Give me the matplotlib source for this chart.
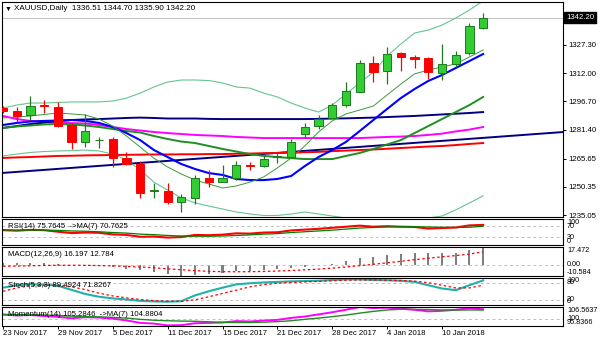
import matplotlib
matplotlib.use('Agg')
import matplotlib.pyplot as plt
import numpy as np

plt.rcParams['font.family'] = ['Liberation Sans', 'DejaVu Sans']
plt.rcParams['font.size'] = 5.6

# daily bars, XAUUSD
dates = ['23 Nov 2017', '24 Nov 2017', '27 Nov 2017', '28 Nov 2017', '29 Nov 2017', '30 Nov 2017',
         '1 Dec 2017', '4 Dec 2017', '5 Dec 2017', '6 Dec 2017', '7 Dec 2017', '8 Dec 2017',
         '11 Dec 2017', '12 Dec 2017', '13 Dec 2017', '14 Dec 2017', '15 Dec 2017', '18 Dec 2017',
         '19 Dec 2017', '20 Dec 2017', '21 Dec 2017', '22 Dec 2017', '26 Dec 2017', '27 Dec 2017',
         '28 Dec 2017', '29 Dec 2017', '2 Jan 2018', '3 Jan 2018', '4 Jan 2018', '5 Jan 2018',
         '8 Jan 2018', '9 Jan 2018', '10 Jan 2018', '11 Jan 2018', '12 Jan 2018', '15 Jan 2018']
opens = [1293.2, 1291.6, 1289.3, 1294.5, 1293.8, 1283.9, 1274.8, 1275.6, 1276.1, 1266.1, 1262.7, 1248.0,
         1248.1, 1242.3, 1244.4, 1255.3, 1252.8, 1255.3, 1262.2, 1261.8, 1266.4, 1266.7, 1278.8, 1283.3,
         1287.5, 1294.7, 1301.9, 1317.4, 1313.2, 1322.8, 1321.0, 1320.1, 1311.9, 1316.8, 1322.8, 1336.51]
highs = [1294.0, 1293.6, 1299.6, 1297.4, 1296.5, 1284.8, 1289.7, 1277.5, 1277.5, 1269.4, 1264.5, 1252.6,
         1252.2, 1246.3, 1256.8, 1259.5, 1262.2, 1264.4, 1264.0, 1267.6, 1269.4, 1276.3, 1284.8, 1289.3,
         1295.7, 1307.4, 1319.2, 1321.3, 1326.4, 1323.7, 1321.9, 1320.9, 1327.7, 1324.0, 1339.1, 1344.70]
lows = [1290.5, 1285.7, 1286.6, 1290.6, 1283.0, 1270.7, 1271.8, 1271.2, 1261.3, 1262.3, 1244.1, 1244.4,
        1240.8, 1236.5, 1241.0, 1250.4, 1252.8, 1254.0, 1259.5, 1261.3, 1263.4, 1266.4, 1277.0, 1281.5,
        1287.5, 1293.8, 1301.9, 1307.4, 1306.0, 1313.4, 1314.7, 1308.7, 1308.3, 1315.5, 1321.9, 1335.90]
closes = [1291.4, 1288.8, 1294.4, 1294.1, 1283.5, 1274.8, 1280.6, 1276.0, 1265.8, 1262.8, 1247.2, 1248.5,
          1242.3, 1244.7, 1255.3, 1252.8, 1255.3, 1262.2, 1261.6, 1265.3, 1267.0, 1274.8, 1282.6, 1287.0,
          1294.7, 1302.3, 1317.4, 1312.8, 1322.4, 1320.6, 1319.7, 1312.5, 1316.9, 1321.9, 1337.5, 1342.20]

# main chart overlays
band_upper = [1293.1, 1294.7, 1295.8, 1295.8, 1296.1, 1296.4, 1296.4, 1296.4, 1296.9, 1298.5, 1301.2, 1304.5,
              1307.2, 1308.3, 1308.3, 1308.0, 1306.7, 1304.5, 1303.9, 1301.2, 1299.1, 1295.8, 1293.1, 1290.9,
              1294.7, 1300.7, 1306.7, 1312.6, 1321.3, 1327.8, 1333.8, 1335.4, 1338.1, 1341.9, 1346.3, 1351.2]
band_lower = [1267.1, 1268.1, 1269.0, 1269.5, 1269.8, 1270.0, 1270.3, 1269.8, 1268.1, 1264.9, 1259.5, 1252.9,
              1248.6, 1244.3, 1241.6, 1239.9, 1238.3, 1236.7, 1235.6, 1234.8, 1234.8, 1235.6, 1236.7, 1235.6,
              1234.5, 1233.4, 1232.9, 1232.9, 1232.9, 1232.9, 1232.9, 1233.4, 1234.5, 1237.8, 1241.6, 1245.4]
ma_fast = [1287.7, 1288.2, 1288.8, 1289.6, 1290.4, 1289.9, 1289.3, 1287.1, 1283.3, 1277.9, 1271.9, 1265.9,
           1261.1, 1257.3, 1254.0, 1251.9, 1249.7, 1250.8, 1252.9, 1255.7, 1260.6, 1265.9, 1272.5, 1280.1,
           1286.1, 1289.9, 1292.0, 1294.2, 1300.2, 1306.1, 1311.6, 1313.7, 1315.4, 1317.0, 1320.8, 1324.6]
ma_blue = [1283.9, 1285.0, 1285.8, 1286.1, 1286.3, 1286.6, 1286.1, 1285.0, 1282.8, 1279.5, 1275.7, 1270.3,
           1266.5, 1262.7, 1260.0, 1257.8, 1256.8, 1254.6, 1254.0, 1254.0, 1254.6, 1256.2, 1261.6, 1266.5,
           1270.3, 1274.7, 1280.6, 1286.6, 1292.6, 1298.5, 1303.4, 1307.8, 1311.0, 1314.8, 1318.6, 1322.4]
ma_navy = [1282.3, 1283.3, 1284.4, 1285.2, 1286.0, 1286.6, 1286.9, 1287.1, 1287.4, 1287.7, 1287.9, 1287.7,
           1287.4, 1287.4, 1287.4, 1287.2, 1287.1, 1287.1, 1287.1, 1287.1, 1287.1, 1287.1, 1287.1, 1287.2,
           1287.4, 1287.5, 1287.7, 1287.9, 1288.2, 1288.5, 1288.8, 1289.2, 1289.6, 1290.0, 1290.4, 1290.9]
ma_magenta = [1288.8, 1287.1, 1286.1, 1285.5, 1285.2, 1284.9, 1284.7, 1283.9, 1282.8, 1281.7, 1280.9, 1280.1,
              1279.5, 1279.0, 1278.5, 1278.2, 1277.9, 1277.4, 1277.1, 1276.8, 1276.8, 1276.8, 1276.8, 1276.8,
              1276.8, 1276.8, 1276.8, 1277.1, 1277.4, 1277.6, 1277.9, 1278.5, 1279.2, 1280.4, 1281.4, 1282.8]
ma_green = [1282.3, 1283.1, 1283.6, 1284.2, 1284.4, 1284.2, 1283.6, 1282.8, 1281.7, 1280.6, 1279.8, 1277.9,
            1276.3, 1274.9, 1274.1, 1272.5, 1270.9, 1269.5, 1268.1, 1267.1, 1266.5, 1265.9, 1265.4, 1265.4,
            1265.4, 1267.1, 1268.7, 1270.9, 1273.3, 1275.7, 1279.5, 1283.3, 1287.1, 1290.9, 1294.7, 1299.1]
ma_red = [1266.0, 1266.3, 1266.5, 1266.8, 1267.1, 1267.2, 1267.4, 1267.5, 1267.6, 1267.7, 1267.8, 1267.9,
          1267.9, 1268.0, 1268.0, 1268.1, 1268.1, 1268.3, 1268.4, 1268.6, 1268.7, 1268.8, 1269.1, 1269.3,
          1269.7, 1270.0, 1270.3, 1270.6, 1271.0, 1271.4, 1271.8, 1272.2, 1272.5, 1273.0, 1273.6, 1274.1]
trend_bars = [0, 35]
trend_prices = [1257.9, 1276.9]
price_ticks = [1327.30, 1312.00, 1296.70, 1281.40, 1265.65, 1250.35, 1235.05]
last_price = 1342.20

# indicators
rsi = [56, 54, 57, 56, 50, 45, 47, 46, 40, 38, 31, 32, 28, 30, 38, 37, 39, 44, 43, 47, 48, 55, 58, 61,
       65, 69, 73, 69, 71, 69, 68, 62, 64, 66, 74, 75.76]
rsi_ma = [57, 56, 56, 56, 55, 53, 52, 50, 47, 45, 41, 39, 36, 34, 33, 33, 34, 36, 38, 41, 43, 47, 50, 53,
          56, 60, 64, 66, 68, 69, 69, 68, 67, 66, 67, 70.76]
macd = [1.5, 1.6, 1.9, 1.8, 1.0, -0.5, -0.8, -1.2, -2.6, -4.2, -4.8, -7.1, -9.4, -10.584, -9.9, -9.5, -8.1,
        -6.6, -6.0, -5.0, -4.6, -3.2, -2.6, -1.0, 1.0, 3.2, 6.4, 8.1, 9.9, 10.5, 11.5, 11.6, 11.9, 12.0,
        14.2, 16.197]
macd_signal = [-1.5, -1.3, -1.0, -0.7, -0.5, -0.5, -0.6, -0.8, -1.1, -1.6, -2.2, -3.0, -4.0, -4.9, -5.8,
               -6.5, -6.8, -6.9, -6.8, -6.6, -6.2, -5.7, -5.0, -4.3, -3.3, -2.2, -0.9, 0.4, 1.9, 3.4, 5.0,
               6.4, 7.8, 9.0, 10.5, 12.784]
stoch_k = [63, 72, 76, 74, 70, 55, 40, 30, 24, 20, 15, 13, 12, 14, 35, 50, 63, 75, 79, 82, 84, 86, 87, 88,
           91, 93, 93, 91, 90, 88, 84, 72, 60, 54, 72, 89.49]
stoch_d = [50, 62, 70, 72, 72, 66, 56, 43, 33, 26, 20, 16, 14, 13, 19, 30, 42, 54, 66, 74, 79, 82, 84, 86,
           88, 90, 91, 91, 90, 89, 87, 81, 72, 62, 62, 71.83]
momentum = [102.2, 101.8, 102.0, 101.5, 101.0, 100.2, 100.8, 100.6, 100.0, 99.0, 97.6, 97.2, 96.2, 96.3,
            97.4, 97.6, 97.8, 98.6, 98.4, 98.9, 99.3, 100.4, 101.2, 102.4, 103.6, 105.0, 106.56, 106.0,
            106.2, 105.6, 105.0, 104.1, 104.4, 105.0, 105.9, 105.28]
momentum_ma = [102.4, 102.3, 102.2, 102.0, 101.8, 101.4, 101.2, 101.0, 100.7, 100.3, 99.6, 99.1, 98.8,
               98.6, 98.5, 98.2, 97.9, 97.8, 97.8, 98.0, 98.3, 98.8, 99.6, 100.3, 101.1, 102.0, 103.1,
               104.1, 104.9, 105.3, 105.2, 105.1, 104.9, 104.8, 104.9, 104.88]

x = np.arange(len(dates))
W, H = 600, 343
fig = plt.figure(figsize=(6, 3.43), dpi=100)
fig.patch.set_facecolor('white')


def panel(top, bottom):
    ax = fig.add_axes([2 / W, 1 - bottom / H, 561 / W, (bottom - top) / H])
    ax.set_xlim(-0.073, 40.82)
    ax.set_xticks([])
    ax.set_yticks([])
    for s in ax.spines.values():
        s.set_linewidth(0.8)
    return ax


def side_label(ax, y, s, va):
    ax.text(1 + 4 / 561, y, s, transform=ax.get_yaxis_transform(), ha='left', va=va,
            fontsize=5.2, clip_on=False)


ax = panel(2, 216.5)
ax_rsi = panel(218.5, 245)
ax_macd = panel(247, 275.5)
ax_sto = panel(277.5, 305)
ax_mom = panel(307, 326)

# main chart
ax.set_ylim(1234.24, 1350.62)
ax.axhline(last_price, color='#c0c0c0', lw=0.7, zorder=1)
ax.axline((trend_bars[0], trend_prices[0]), (trend_bars[1], trend_prices[1]), color='#000080', lw=1.4, zorder=2)
ax.plot(x, band_upper, color='#66c48e', lw=0.8, zorder=2)
ax.plot(x, band_lower, color='#66c48e', lw=0.8, zorder=2)
ax.plot(x, ma_red, color='#ff0000', lw=1.4, zorder=2)
ax.plot(x, ma_magenta, color='#ff00ff', lw=1.4, zorder=2)
ax.plot(x, ma_navy, color='#000080', lw=1.4, zorder=2)
ax.plot(x, ma_green, color='#1f8f1f', lw=1.4, zorder=2)
ax.plot(x, ma_blue, color='#0000ff', lw=1.5, zorder=2)
ax.plot(x, ma_fast, color='#3a9a3a', lw=0.7, zorder=2)

for i in x:
    o, h, l, c = opens[i], highs[i], lows[i], closes[i]
    up = c >= o
    edge = '#1e7a1e' if up else '#ff0000'
    face = '#32cd32' if up else '#ff0000'
    ax.vlines(i, l, h, color=edge, lw=0.9, zorder=3)
    ax.bar(i, max(abs(c - o), 0.3), bottom=min(o, c), width=0.6, color=face,
           edgecolor=edge, linewidth=0.7, zorder=4)

ax.yaxis.tick_right()
ax.set_yticks(price_ticks + [last_price])
ax.set_yticklabels([f'{v:.2f}' for v in price_ticks] + [''])
ax.tick_params(axis='y', direction='out', length=2.2, width=0.7, pad=1.5, labelsize=5.6)
ax.text(1 + 3 / 561, last_price, f'{last_price:.2f}', transform=ax.get_yaxis_transform(),
        ha='left', va='center', color='white', clip_on=False,
        bbox=dict(boxstyle='square,pad=0.25', fc='black', ec='black'))
fig.text(5 / W, 1 - 9 / H, '▼', fontsize=5, va='center', ha='left')
fig.text(14 / W, 1 - 9 / H, 'XAUUSD,Daily  1336.51 1344.70 1335.90 1342.20', fontsize=5.8,
         va='center', ha='left')

# RSI
ax_rsi.set_ylim(0, 100)
for lv in (70, 30):
    ax_rsi.axhline(lv, color='#c0c0c0', lw=0.7, ls=(0, (3, 3)))
ax_rsi.plot(x, rsi, color='#ff0000', lw=1.5)
ax_rsi.plot(x, rsi_ma, color='#008000', lw=0.9)
ax_rsi.text(6 / 561, 1 - 8 / 26.5, 'RSI(14) 75.7645  ->MA(7) 70.7625', transform=ax_rsi.transAxes, va='center')
side_label(ax_rsi, 100, '100', 'top')
side_label(ax_rsi, 70, '70', 'center')
side_label(ax_rsi, 30, '30', 'center')
side_label(ax_rsi, 0, '0', 'bottom')

# MACD
ax_macd.set_ylim(-10.584, 17.472)
ax_macd.axhline(0, color='#c0c0c0', lw=0.7, ls=(0, (3, 3)))
ax_macd.bar(x, macd, width=0.15, color='#7f7f7f')
ax_macd.plot(x, macd_signal, color='#ff0000', lw=0.9, ls=(0, (2, 2)))
ax_macd.text(6 / 561, 1 - 8 / 28.5, 'MACD(12,26,9) 16.197 12.784', transform=ax_macd.transAxes, va='center')
side_label(ax_macd, 17.472, '17.472', 'top')
side_label(ax_macd, 0, '0.00', 'center')
side_label(ax_macd, -10.584, '-10.584', 'bottom')

# Stochastic
ax_sto.set_ylim(0, 100)
for lv in (80, 20):
    ax_sto.axhline(lv, color='#c0c0c0', lw=0.7, ls=(0, (3, 3)))
ax_sto.plot(x, stoch_k, color='#20b2aa', lw=1.5)
ax_sto.plot(x, stoch_d, color='#ff0000', lw=0.9, ls=(0, (2, 2)))
ax_sto.text(6 / 561, 1 - 8 / 27.5, 'Stoch(5,3,3) 89.4924 71.8267', transform=ax_sto.transAxes, va='center')
side_label(ax_sto, 100, '100', 'top')
side_label(ax_sto, 80, '80', 'center')
side_label(ax_sto, 20, '20', 'center')
side_label(ax_sto, 0, '0', 'bottom')

# Momentum
ax_mom.set_ylim(95.8366, 106.5637)
ax_mom.axhline(100, color='#c0c0c0', lw=0.7, ls=(0, (3, 3)))
ax_mom.plot(x, momentum, color='#ff00ff', lw=1.4)
ax_mom.plot(x, momentum_ma, color='#228b22', lw=1.0)
ax_mom.text(6 / 561, 1 - 8 / 19, 'Momentum(14) 105.2846  ->MA(7) 104.8804', transform=ax_mom.transAxes, va='center')
side_label(ax_mom, 106.5637, '106.5637', 'top')
side_label(ax_mom, 100, '100', 'center')
side_label(ax_mom, 95.8366, '95.8366', 'bottom')

tick_idx = list(range(0, len(dates), 4))
ax_mom.set_xticks(tick_idx)
ax_mom.set_xticklabels([dates[i] for i in tick_idx], ha='left')
ax_mom.tick_params(axis='x', direction='out', length=2.2, width=0.7, pad=0.8, labelsize=5.6)

fig.savefig('out.png', dpi=100)
